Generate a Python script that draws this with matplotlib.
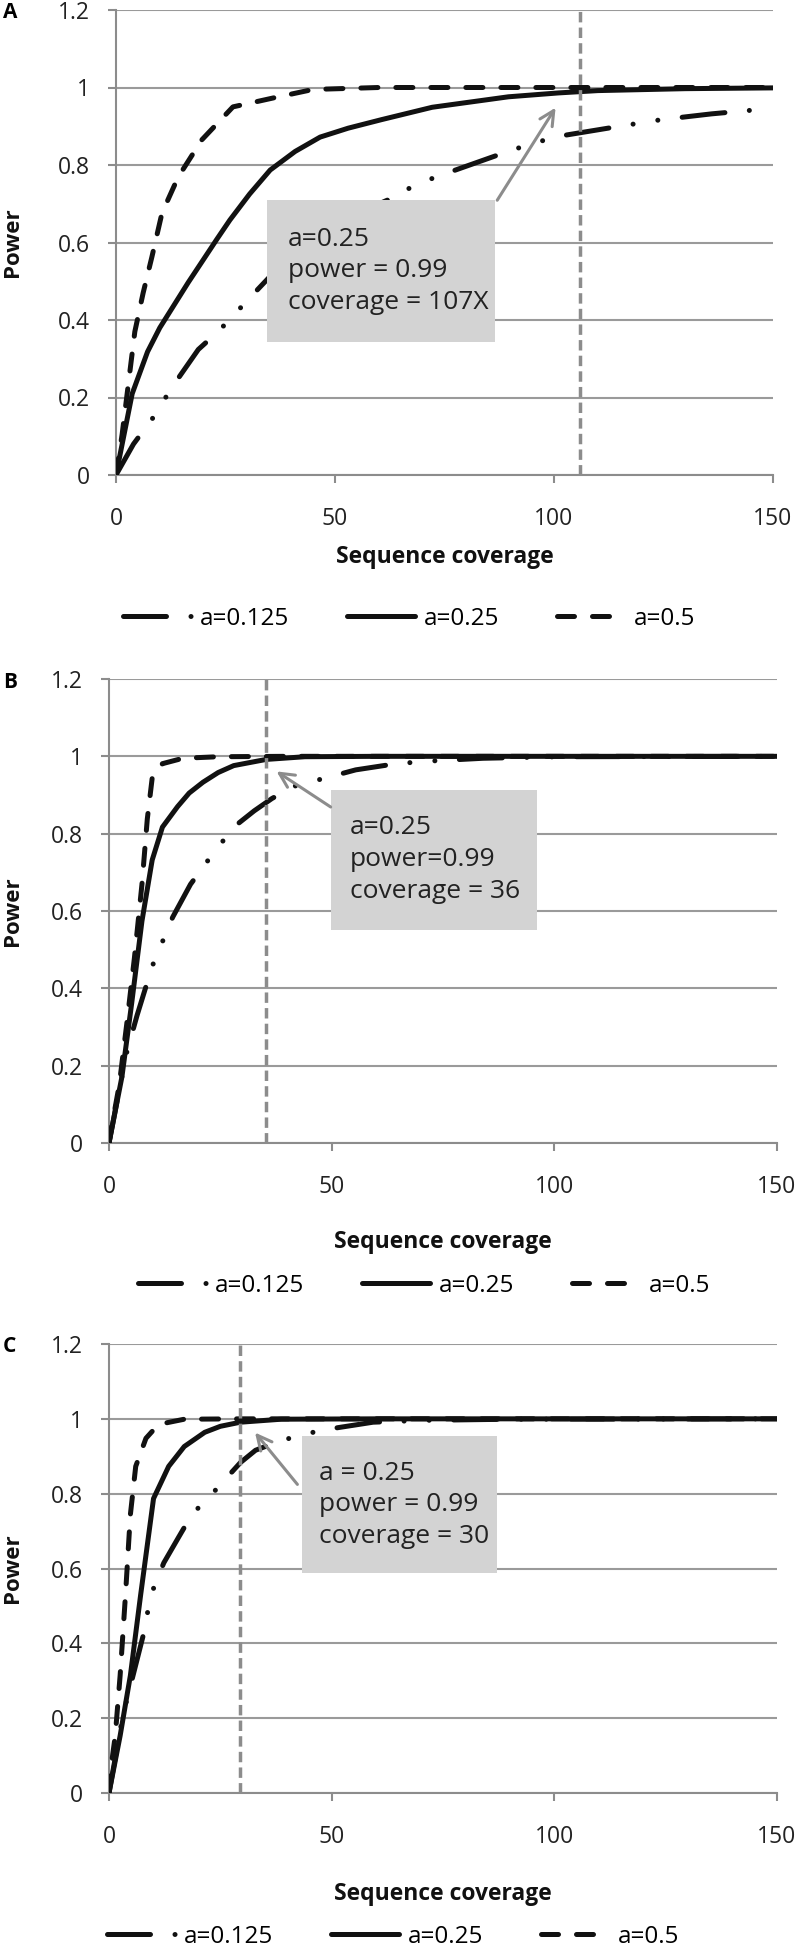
import matplotlib
matplotlib.use("Agg")

import numpy as np
import matplotlib.pyplot as plt
from matplotlib.patches import Rectangle
from matplotlib.ticker import FuncFormatter

plt.rcParams["font.family"] = ["Open Sans", "DejaVu Sans"]

# ---- data (coverage, power) ----
# Panel A
a_x_0125 = [0, 4, 8.4, 13, 18.8, 23.5, 32.2, 40, 50, 62.9, 68.7, 78, 88.5, 94.3, 101, 115, 124.5, 136, 147.7, 150]
a_y_0125 = [0, 0.08, 0.147, 0.23, 0.324, 0.372, 0.477, 0.57, 0.65, 0.714, 0.751, 0.789, 0.831, 0.853, 0.874, 0.9, 0.917, 0.932, 0.944, 0.946]
a_x_025 = [0, 3.7, 7.2, 10, 13, 16.5, 19.9, 23, 26, 30.5, 35.2, 40.9, 46.6, 53, 60.6, 72.2, 89.6, 101, 110, 130, 150]
a_y_025 = [0, 0.21, 0.318, 0.38, 0.434, 0.497, 0.555, 0.608, 0.658, 0.725, 0.787, 0.835, 0.872, 0.895, 0.917, 0.949, 0.976, 0.986, 0.992, 0.997, 0.999]
a_x_05 = [0, 1.4, 4.3, 6.2, 8.2, 10.5, 14.2, 19.6, 26.7, 36.7, 45, 60, 100, 150]
a_y_05 = [0, 0.105, 0.37, 0.47, 0.563, 0.676, 0.769, 0.865, 0.95, 0.975, 0.995, 1.0, 1.0, 1.0]

# Panel B
b_x_0125 = [0, 2, 4, 6.3, 9.7, 14.3, 18.3, 22.3, 28, 32.6, 36.6, 41.7, 48.6, 55.4, 64.5, 72.5, 84, 101, 150]
b_y_0125 = [0, 0.12, 0.235, 0.33, 0.457, 0.584, 0.669, 0.732, 0.817, 0.859, 0.891, 0.923, 0.944, 0.965, 0.981, 0.988, 0.995, 0.999, 1.0]
b_x_025 = [0, 2.9, 5.1, 7.4, 9.7, 12, 15.4, 18, 21.1, 24.5, 28, 35.3, 44, 60, 150]
b_y_025 = [0, 0.171, 0.362, 0.574, 0.732, 0.817, 0.87, 0.905, 0.933, 0.958, 0.976, 0.992, 0.999, 1.0, 1.0]
b_x_05 = [0, 0.3, 2.3, 4, 5.7, 7.4, 8.6, 9.7, 12, 16.6, 24.6, 40, 150]
b_y_05 = [0, 0.023, 0.15, 0.309, 0.478, 0.669, 0.838, 0.944, 0.981, 0.995, 0.999, 1.0, 1.0]

# Panel C
c_x_0125 = [0, 3.1, 5.4, 7.7, 9.4, 12.3, 15.7, 18.6, 23.8, 29.5, 32.9, 37.5, 43.3, 50.1, 59.3, 70.8, 90.3, 150]
c_y_0125 = [0, 0.207, 0.314, 0.422, 0.529, 0.615, 0.685, 0.744, 0.808, 0.883, 0.916, 0.937, 0.958, 0.974, 0.991, 0.996, 0.999, 1.0]
c_x_025 = [0, 2.5, 4.8, 7.1, 10, 13.4, 16.9, 21.5, 25, 29.5, 38.7, 60, 150]
c_y_025 = [0, 0.153, 0.314, 0.529, 0.787, 0.873, 0.926, 0.964, 0.98, 0.991, 0.999, 1.0, 1.0]
c_x_05 = [0, 0.2, 1.4, 2.5, 3.7, 4.8, 6, 8.3, 11.1, 16.9, 30, 150]
c_y_05 = [0, 0.046, 0.153, 0.314, 0.529, 0.744, 0.873, 0.948, 0.985, 0.999, 1.0, 1.0]

series_labels = ["a=0.125", "a=0.25", "a=0.5"]
panel_names = ["A", "B", "C"]
threshold_x = [106, 35.3, 29.5]
box_texts = [
    "a=0.25\npower = 0.99\ncoverage = 107X",
    "a=0.25\npower=0.99\ncoverage = 36",
    "a = 0.25\npower = 0.99\ncoverage = 30",
]
# box (x0, y0, x1, y1) and arrow (tail, head) in data units
boxes = [(34.5, 0.343, 86.5, 0.71), (49.9, 0.552, 96.2, 0.914), (43.3, 0.588, 87.2, 0.953)]
arrows = [((86.7, 0.703), (100.7, 0.954)), ((50.3, 0.865), (37.1, 0.965)), ((42.7, 0.819), (32.4, 0.969))]

panels = [
    [(a_x_0125, a_y_0125), (a_x_025, a_y_025), (a_x_05, a_y_05)],
    [(b_x_0125, b_y_0125), (b_x_025, b_y_025), (b_x_05, b_y_05)],
    [(c_x_0125, c_y_0125), (c_x_025, c_y_025), (c_x_05, c_y_05)],
]

W, H = 797, 1950
# axes rectangles in pixels: left, top, right, bottom
ax_px = [(116, 10, 773, 475), (109, 679, 777, 1143), (109, 1344, 777, 1793)]
legend_xy = [(409, 619), (424, 1286), (393, 1937)]
xlabel_y = [557, 1242, 1894]

styles = [
    dict(linestyle=(0, (8.6, 4.9, 0.01, 5, 0.01, 4.9)), dash_capstyle="round"),
    dict(linestyle="-", solid_capstyle="round"),
    dict(linestyle=(0, (3.4, 3.6)), dash_capstyle="round"),
]

grey = "#8c8c8c"
fig = plt.figure(figsize=(W / 100, H / 100), dpi=100)

for i, name in enumerate(panel_names):
    l, t, r, b = ax_px[i]
    ax = fig.add_axes([l / W, 1 - b / H, (r - l) / W, (b - t) / H])
    handles = []
    for (xs, ys), lab, st in zip(panels[i], series_labels, styles):
        h, = ax.plot(xs, ys, color="#111111", lw=3.6, label=lab, zorder=3, **st)
        handles.append(h)

    ax.axvline(threshold_x[i], color=grey, lw=2.5, ls=(0, (3, 1.5)), zorder=4)

    x0, y0, x1, y1 = boxes[i]
    ax.add_patch(Rectangle((x0, y0), x1 - x0, y1 - y0, facecolor="#d3d3d3",
                           edgecolor="none", zorder=5))
    ax.text(x0 + 0.09 * (x1 - x0), (y0 + y1) / 2, box_texts[i], fontsize=19,
            color="#222222", va="center", ha="left", linespacing=1.35, zorder=6)
    (tx, ty), (hx, hy) = arrows[i]
    ax.annotate("", xy=(hx, hy), xytext=(tx, ty), zorder=6,
                arrowprops=dict(arrowstyle="->", color=grey, lw=2.2,
                                mutation_scale=26))

    ax.set_xlim(0, 150)
    ax.set_ylim(0, 1.2)
    ax.set_xticks([0, 50, 100, 150])
    ax.set_yticks(np.arange(0, 1.21, 0.2))
    ax.yaxis.set_major_formatter(FuncFormatter(lambda v, p: f"{v:.1f}".rstrip("0").rstrip(".") if v else "0"))
    ax.grid(axis="y", color="#9a9a9a", lw=1.5)
    ax.set_axisbelow(True)
    for s in ["top", "right"]:
        ax.spines[s].set_visible(False)
    for s in ["left", "bottom"]:
        ax.spines[s].set_color(grey)
        ax.spines[s].set_linewidth(1.5)
    ax.tick_params(axis="both", colors=grey, labelcolor="#222222", labelsize=16.5,
                   length=6, width=1.5, direction="out")
    ax.tick_params(axis="x", pad=17)
    ax.tick_params(axis="y", pad=13)

    fig.text(13 / W, 1 - (t + b) / 2 / H, "Power", fontsize=16, fontweight="bold",
             rotation=90, ha="center", va="center", color="#111111")
    fig.text((l + r) / 2 / W, 1 - xlabel_y[i] / H, "Sequence coverage", fontsize=16.5,
             fontweight="bold", ha="center", va="center", color="#111111")
    fig.text(3 / W, 1 - (t + 3) / H, name, fontsize=15, fontweight="bold",
             ha="left", va="center")

    lx, ly = legend_xy[i]
    fig.legend(handles=handles, loc="center", ncol=3, frameon=False,
               bbox_to_anchor=(lx / W, 1 - ly / H),
               fontsize=17.5, handlelength=2.8, columnspacing=2.4, handletextpad=0.35)

fig.savefig("out.png", dpi=100)
